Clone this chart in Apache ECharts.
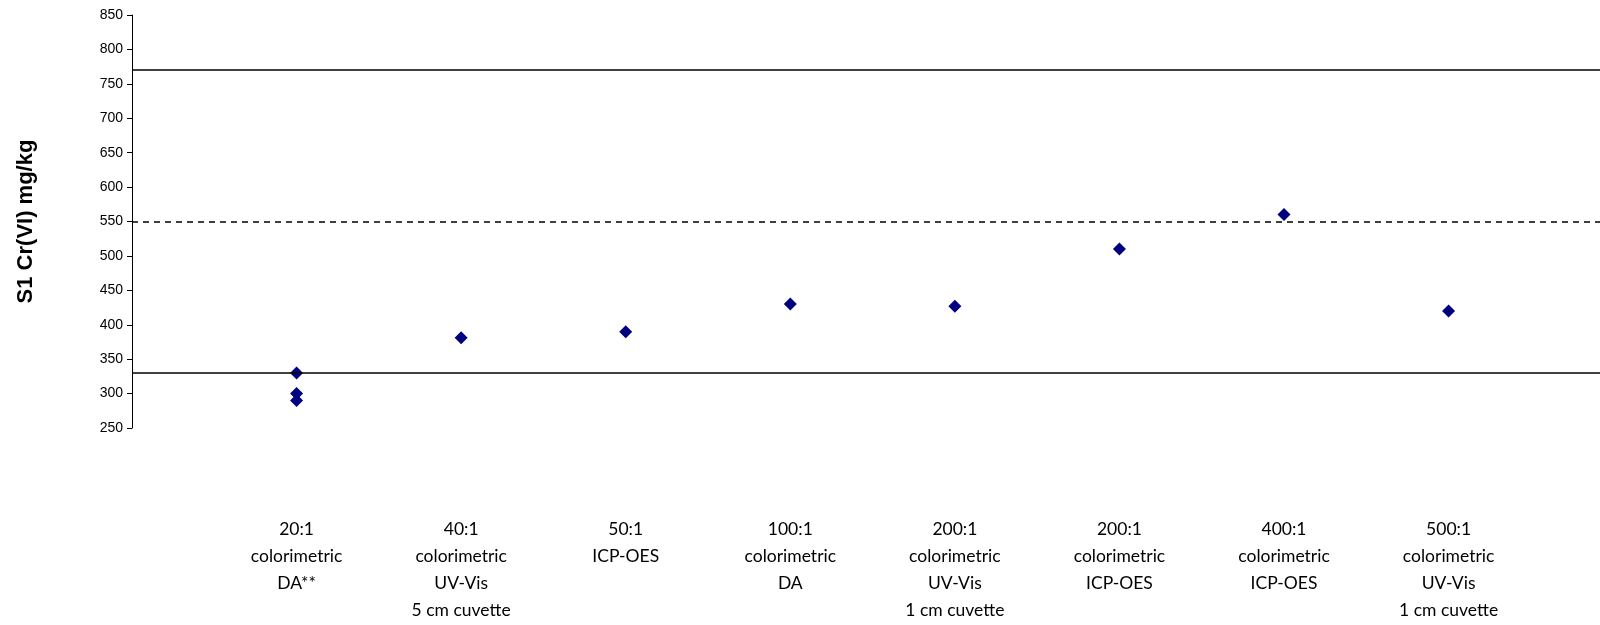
<!DOCTYPE html>
<html>
<head>
<meta charset="utf-8">
<script src="https://cdn.jsdelivr.net/npm/echarts@6/dist/echarts.min.js"></script>
<style>html,body{margin:0;padding:0;background:#fff}#c{width:1600px;height:625px}</style>
</head>
<body>
<div id="c"></div>
<script>
const categories = [
  "20:1\ncolorimetric\nDA**",
  "40:1\ncolorimetric\nUV-Vis\n5 cm cuvette",
  "50:1\nICP-OES",
  "100:1\ncolorimetric\nDA",
  "200:1\ncolorimetric\nUV-Vis\n1 cm cuvette",
  "200:1\ncolorimetric\nICP-OES",
  "400:1\ncolorimetric\nICP-OES",
  "500:1\ncolorimetric\nUV-Vis\n1 cm cuvette"
];
// [category position (1-based), value]
const pointCategory = [1, 1, 1, 2, 3, 4, 5, 6, 7, 8];
const pointValues   = [330, 300, 290, 381, 390, 430, 427, 510, 560, 420];
const upperLimit = 770;
const assignedValue = 550;
const lowerLimit = 330;
const yTicks = { min: 250, max: 850, step: 50 };

const chart = echarts.init(document.getElementById('c'));
chart.setOption({
  animation: false,
  grid: { left: 132, right: 0, top: 15, bottom: 197, containLabel: false },
  xAxis: {
    type: 'value', min: 0, max: 8.92, interval: 1,
    axisLine: { show: false }, axisTick: { show: false }, splitLine: { show: false },
    axisLabel: {
      margin: 88, verticalAlign: 'top', align: 'center',
      fontFamily: 'Lato', fontSize: 17.5, lineHeight: 27, color: '#000',
      showMaxLabel: false, showMinLabel: false,
      formatter: v => (Number.isInteger(v) && v >= 1 && v <= categories.length) ? categories[v - 1] : ''
    }
  },
  yAxis: {
    type: 'value', min: yTicks.min, max: yTicks.max, interval: yTicks.step,
    name: 'S1 Cr(VI) mg/kg', nameLocation: 'middle', nameGap: 95, nameRotate: 90,
    nameTextStyle: { fontFamily: 'Liberation Sans', fontWeight: 'bold', fontSize: 22, color: '#000' },
    axisLine: { show: true, lineStyle: { color: '#000', width: 1 } },
    axisTick: { show: true, inside: false, length: 5, lineStyle: { color: '#000' } },
    splitLine: { show: false },
    axisLabel: { fontFamily: 'Liberation Sans', fontSize: 14, color: '#000', margin: 9 }
  },
  series: [{
    type: 'scatter',
    symbol: 'diamond', symbolSize: 13,
    itemStyle: { color: '#000080', opacity: 1 },
    data: pointValues.map((v, i) => [pointCategory[i], v]),
    z: 3,
    markLine: {
      silent: true, symbol: 'none', label: { show: false },
      animation: false,
      data: [
        { yAxis: upperLimit, lineStyle: { color: '#000', width: 1.5, type: 'solid' } },
        { yAxis: assignedValue, lineStyle: { color: '#000', width: 1.5, type: [6, 5] } },
        { yAxis: lowerLimit, lineStyle: { color: '#000', width: 1.5, type: 'solid' } }
      ]
    }
  }]
});
</script>
</body>
</html>
